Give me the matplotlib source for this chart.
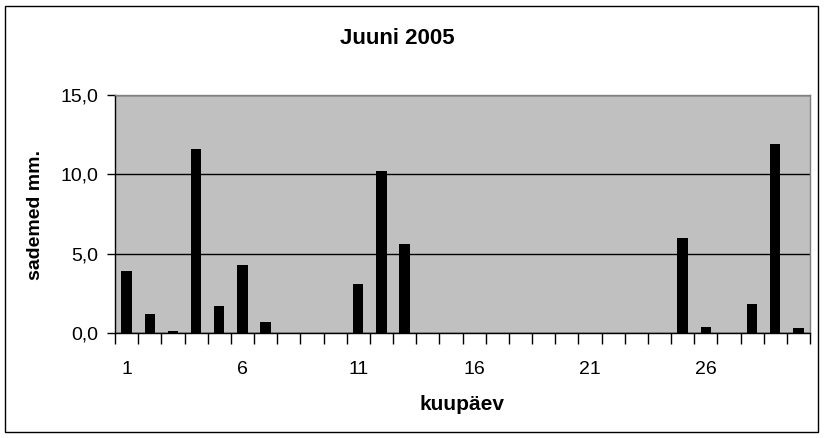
import matplotlib
matplotlib.use("Agg")
import matplotlib.pyplot as plt
from matplotlib.patches import Rectangle
from matplotlib.ticker import FixedLocator, FuncFormatter

days = list(range(1, 31))
rain = [3.9, 1.2, 0.1, 11.6, 1.7, 4.3, 0.7, 0, 0, 0,
        3.1, 10.2, 5.6, 0, 0, 0, 0, 0, 0, 0,
        0, 0, 0, 0, 6.0, 0.4, 0, 1.8, 11.9, 0.3]
label_days = [1, 6, 11, 16, 21, 26]
yticks = [0, 5, 10, 15]

title = "Juuni 2005"
xlabel = "kuupäev"
ylabel = "sademed mm."

W, H = 826, 438
fig = plt.figure(figsize=(W / 100, H / 100), dpi=100)
fig.patch.set_facecolor("white")

fam = ["Liberation Sans", "DejaVu Sans"]

ax = fig.add_axes([115 / W, 1 - 333 / H, (810 - 115) / W, (333 - 95) / H])
ax.set_facecolor("#c0c0c0")
ax.bar(days, rain, width=0.45, color="black", zorder=3)
ax.set_xlim(0.5, 30.5)
ax.set_ylim(0, 15)

ax.yaxis.set_major_locator(FixedLocator(yticks))
ax.yaxis.set_major_formatter(FuncFormatter(lambda v, p: f"{v:.1f}".replace(".", ",")))
ax.grid(axis="y", color="black", linewidth=1.0, zorder=1)
ax.tick_params(axis="y", direction="out", length=6, width=1, colors="black", pad=6)

ax.xaxis.set_major_locator(FixedLocator(label_days))
ax.xaxis.set_minor_locator(FixedLocator([d + 0.5 for d in range(0, 31)]))
ax.tick_params(axis="x", which="major", length=0, pad=20)
ax.tick_params(axis="x", which="minor", length=8, width=1, color="black", direction="out")

for lab in ax.get_xticklabels() + ax.get_yticklabels():
    lab.set_family(fam)
    lab.set_fontsize(14)

ax.spines["left"].set_color("black")
ax.spines["bottom"].set_color("black")
ax.spines["top"].set_color("#808080")
ax.spines["right"].set_color("#808080")
for s in ax.spines.values():
    s.set_linewidth(1.0)

fig.text(397 / W, 1 - 38 / H, title, ha="center", va="center",
         fontsize=16, fontweight="bold", family=fam)
fig.text(462 / W, 1 - 405 / H, xlabel, ha="center", va="center",
         fontsize=15, fontweight="bold", family=fam)
fig.text(35 / W, 1 - 215 / H, ylabel, ha="center", va="center", rotation=90,
         fontsize=14, fontweight="bold", family=fam)

fig.patches.append(Rectangle((5 / W, 6 / H), (818 - 5) / W, (432 - 6) / H,
                             transform=fig.transFigure, fill=False,
                             edgecolor="black", linewidth=1.0))

fig.savefig("out.png", dpi=100, facecolor="white")
